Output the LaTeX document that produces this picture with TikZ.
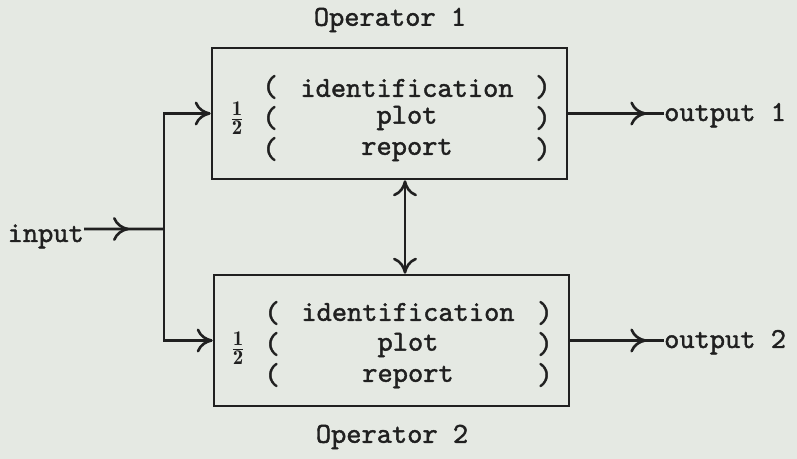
\documentclass[tikz,border=0pt]{standalone}
\usepackage{fontspec}
\newfontfamily\typewr{lmmono10-regular.otf}[FakeBold=1.4]
\usetikzlibrary{arrows.meta,decorations.markings,calc}
\definecolor{paper}{RGB}{229,233,227}
\definecolor{ink}{RGB}{32,32,32}
\tikzset{
  tip/.tip={Computer Modern Rightarrow[length=16bp,width=24bp]},
  wire/.style={draw=ink,line width=2.6bp},
  box/.style={wire,rectangle,minimum width=355bp,minimum height=131bp,inner sep=0pt},
  txt/.style={text=ink,inner sep=0pt,font=\typewr\fontsize{29bp}{34bp}\selectfont},
  paren/.style={text=ink,inner sep=0pt,font=\typewr\fontsize{30.5bp}{34bp}\selectfont},
  half/.style={text=ink,inner sep=0pt,font=\fontsize{30bp}{34bp}\selectfont},
  midarrow/.style={postaction={decorate,decoration={markings,mark=at position #1 with {\arrow{tip}}}}}
}
\begin{document}
\begin{tikzpicture}[x=1bp,y=-1bp]
\fill[paper] (0,0) rectangle (797,459);
\useasboundingbox (0,0) rectangle (797,459);

% boxes
\node[box] (op1) at (389.5,113.5) {};
\node[box] (op2) at (391.5,340.5) {};

% titles
\node[txt] (t1) at (390,20) {Operator 1};
\node[txt] (t2) at (392,437) {Operator 2};

% contents box 1
\node[half] (h1) at (237,118) {$\frac{\mathbf{1}}{\mathbf{2}}$};
\node[txt] (a1) at (407,88) {identification};
\node[txt] (b1) at (407,118) {plot};
\node[txt] (c1) at (407,150) {report};
\node[paren] (la1) at (270,87) {(};
\node[paren] (lb1) at (270,118) {(};
\node[paren] (lc1) at (270,149) {(};
\node[paren] (ra1) at (543,87) {)};
\node[paren] (rb1) at (543,118) {)};
\node[paren] (rc1) at (543,149) {)};

% contents box 2
\node[half] (h2) at (238,348) {$\frac{\mathbf{1}}{\mathbf{2}}$};
\node[txt] (a2) at (408,312) {identification};
\node[txt] (b2) at (408,345) {plot};
\node[txt] (c2) at (408,377) {report};
\node[paren] (la2) at (272,313) {(};
\node[paren] (lb2) at (272,344) {(};
\node[paren] (lc2) at (272,375) {(};
\node[paren] (ra2) at (545,313) {)};
\node[paren] (rb2) at (545,344) {)};
\node[paren] (rc2) at (545,375) {)};

% input / outputs
\node[txt,anchor=base east] (in) at (84,242) {input};
\node[txt,anchor=base west] (out1) at (664,121) {output 1};
\node[txt,anchor=base west] (out2) at (664,348) {output 2};

\coordinate (jn) at (164,229);
\coordinate (va) at (405,0);

\draw[wire,midarrow=45bp] ([yshift=13bp]in.base east) -- (jn);
\draw[wire,-{tip}] (jn) |- (op1.west);
\draw[wire,-{tip}] (jn) |- (op2.west);
\draw[wire,midarrow=78bp] (op1.east) -- (op1.east -| out1.west);
\draw[wire,midarrow=76bp] (op2.east) -- (op2.east -| out2.west);
\draw[wire,{tip}-{tip}] (op1.south -| va) -- (op2.north -| va);
\end{tikzpicture}
\end{document}
